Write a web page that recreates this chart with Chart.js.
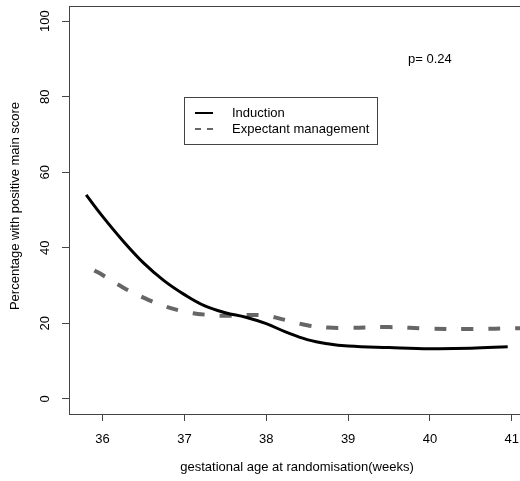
<!DOCTYPE html>
<html>
<head>
<meta charset="utf-8">
<script src="https://cdn.jsdelivr.net/npm/chart.js@4/dist/chart.umd.min.js"></script>
<style>
  html, body { margin: 0; padding: 0; background: #fff; overflow: hidden; }
  canvas { display: block; }
</style>
</head>
<body>
<canvas id="chart" width="532" height="481"></canvas>
<script>
// Data
const inductionX = [35.8, 36, 36.25, 36.5, 36.75, 37, 37.25, 37.5, 37.75, 38, 38.25, 38.5, 38.75, 39, 39.5, 40, 40.5, 40.95];
const inductionY = [54, 48.3, 41.8, 36, 31.3, 27.6, 24.6, 22.8, 21.6, 19.9, 17.6, 15.7, 14.6, 14.0, 13.6, 13.3, 13.4, 13.8];
const expectantX = [35.9, 36, 36.25, 36.5, 36.75, 37, 37.25, 37.5, 37.75, 38, 38.25, 38.5, 38.75, 39, 39.5, 40, 40.5, 41.1];
const expectantY = [34, 32.8, 29.5, 26.8, 24.6, 23.1, 22.3, 22.0, 22.2, 22.0, 20.8, 19.5, 18.9, 18.8, 19.0, 18.6, 18.5, 18.7];
const xTicks = [36, 37, 38, 39, 40, 41];
const yTicks = [0, 20, 40, 60, 80, 100];
const seriesNames = ['Induction', 'Expectant management'];
const pValueText = 'p= 0.24';
const xTitle = 'gestational age at randomisation(weeks)';
const yTitle = 'Percentage with positive main score';

const FONT = "13px 'Liberation Sans', Arial, Helvetica, sans-serif";
const AXIS_COLOR = '#444';

const toPoints = (xs, ys) => xs.map((x, i) => ({ x: x, y: ys[i] }));

// Draws box, tick labels, titles, legend and p value (R base style)
const decorations = {
    id: 'decorations',
    afterDraw(chart) {
        const { ctx, chartArea: a, scales } = chart;
        ctx.save();
        ctx.strokeStyle = AXIS_COLOR;
        ctx.lineWidth = 1;
        ctx.strokeRect(a.left + 0.5, a.top + 0.5, a.right - a.left, a.bottom - a.top);

        ctx.fillStyle = '#000';
        ctx.font = FONT;
        ctx.textAlign = 'center';
        ctx.textBaseline = 'middle';
        xTicks.forEach(v => ctx.fillText(String(v), scales.x.getPixelForValue(v), 439));
        ctx.fillText(xTitle, (a.left + a.right) / 2 - 2, 467);

        yTicks.forEach(v => {
            ctx.save();
            ctx.translate(45, scales.y.getPixelForValue(v));
            ctx.rotate(-Math.PI / 2);
            ctx.fillText(String(v), 0, 0);
            ctx.restore();
        });
        ctx.save();
        ctx.translate(15, (a.top + a.bottom) / 2 - 4);
        ctx.rotate(-Math.PI / 2);
        ctx.fillText(yTitle, 0, 0);
        ctx.restore();

        ctx.textAlign = 'left';
        ctx.fillText(pValueText, 408, 59);

        // legend
        ctx.strokeStyle = AXIS_COLOR;
        ctx.strokeRect(184.5, 97.5, 193, 47);
        chart.data.datasets.forEach((ds, i) => {
            const y = 113 + i * 16;
            ctx.beginPath();
            ctx.strokeStyle = ds.borderColor;
            ctx.lineWidth = 2;
            ctx.setLineDash(i === 0 ? [] : [6, 6]);
            ctx.moveTo(195, y);
            ctx.lineTo(213, y);
            ctx.stroke();
            ctx.setLineDash([]);
            ctx.fillStyle = '#000';
            ctx.fillText(seriesNames[i], 232, y);
        });
        ctx.restore();
    }
};

new Chart(document.getElementById('chart'), {
    type: 'line',
    data: {
        datasets: [{
            label: seriesNames[0],
            data: toPoints(inductionX, inductionY),
            borderColor: '#000',
            borderWidth: 3,
            tension: 0.4,
            pointRadius: 0,
            fill: false
        }, {
            label: seriesNames[1],
            data: toPoints(expectantX, expectantY),
            borderColor: '#666',
            borderWidth: 4,
            borderDash: [12, 15],
            tension: 0.4,
            pointRadius: 0,
            fill: false
        }]
    },
    options: {
        responsive: false,
        animation: false,
        layout: { padding: { top: 6, right: 3, left: 0, bottom: 0 } },
        plugins: { legend: { display: false }, tooltip: { enabled: false } },
        scales: {
            x: {
                type: 'linear',
                min: 35.59,
                max: 41.21,
                afterBuildTicks: s => { s.ticks = xTicks.map(v => ({ value: v })); },
                afterFit: s => { s.height = 67; },
                ticks: { display: false },
                grid: { drawOnChartArea: false, drawTicks: true, tickLength: 7, color: AXIS_COLOR },
                border: { display: true, color: AXIS_COLOR }
            },
            y: {
                type: 'linear',
                min: -4,
                max: 104,
                afterBuildTicks: s => { s.ticks = yTicks.map(v => ({ value: v })); },
                afterFit: s => { s.width = 69; },
                ticks: { display: false },
                grid: { drawOnChartArea: false, drawTicks: true, tickLength: 7, color: AXIS_COLOR },
                border: { display: true, color: AXIS_COLOR }
            }
        }
    },
    plugins: [decorations]
});
</script>
</body>
</html>
